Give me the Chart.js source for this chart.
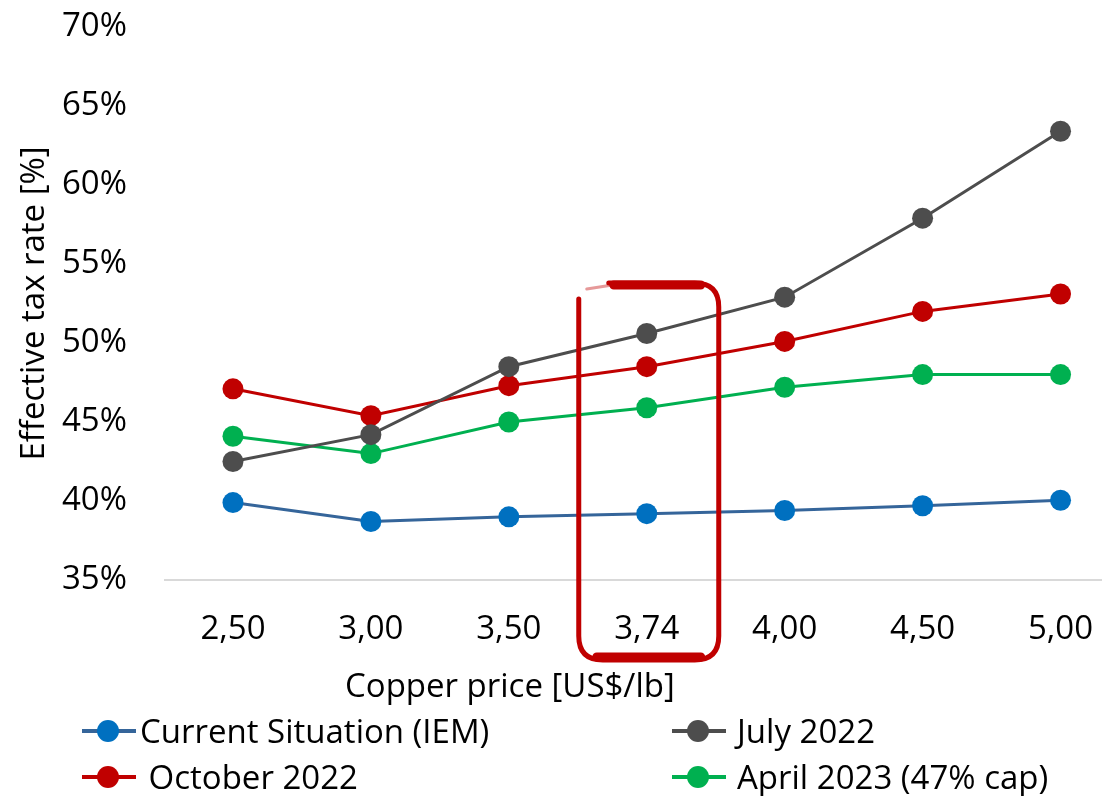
<!DOCTYPE html>
<html>
<head>
<meta charset="utf-8">
<script src="https://cdn.jsdelivr.net/npm/chart.js@4"></script>
<style>
  html, body { margin: 0; padding: 0; background: #fff; }
  body { width: 1102px; height: 796px; overflow: hidden; position: relative; font-family: "Open Sans", sans-serif; color: #000; }
  #wrap { position: absolute; left: 0; top: 0; width: 1140px; height: 796px; }
  #xTitle { position: absolute; top: 663px; left: 345px; font-size: 33px; line-height: 44px; white-space: nowrap; }
  .leg { position: absolute; font-size: 33px; line-height: 38px; white-space: nowrap; display: flex; align-items: center; }
  .sw { position: relative; width: 54px; height: 30px; margin-right: 4px; }
  .sw .ln { position: absolute; left: 0; right: 0; top: 13px; height: 4px; }
  .sw .dot { position: absolute; left: 15px; top: 4px; width: 22px; height: 22px; border-radius: 50%; }
</style>
</head>
<body>
<div id="wrap"><canvas id="chart" width="1140" height="796"></canvas></div>
<div id="xTitle">Copper price [US$/lb]</div>
<div id="legend"></div>
<script>
const prices = ["2,50", "3,00", "3,50", "3,74", "4,00", "4,50", "5,00"];
const currentIEM = [39.9, 38.7, 39.0, 39.2, 39.4, 39.7, 40.05];
const july2022 = [42.5, 44.2, 48.5, 50.6, 52.9, 57.9, 63.4];
const october2022 = [47.1, 45.4, 47.3, 48.5, 50.1, 52.0, 53.1];
const april2023 = [44.1, 43.0, 45.0, 45.9, 47.2, 48.0, 48.0];
const yTicks = [35, 40, 45, 50, 55, 60, 65, 70];
const highlightIndex = 3;

const series = [
  { label: "Current Situation (IEM)", data: currentIEM, line: "#35659a", dot: "#0070c0" },
  { label: "July 2022", data: july2022, line: "#4d4d4d", dot: "#4d4d4d" },
  { label: " October 2022", data: october2022, line: "#c00000", dot: "#c00000" },
  { label: "April 2023 (47% cap)", data: april2023, line: "#00b050", dot: "#00b050" }
];

// hand-drawn style red box around the highlighted price
const highlightBox = {
  id: "highlightBox",
  afterDatasetsDraw(chart) {
    const { ctx, scales: { x, y }, chartArea } = chart;
    const cx = x.getPixelForValue(highlightIndex);
    const left = cx - 68, right = cx + 72;
    const top = y.getPixelForValue(53.8), bottom = chartArea.bottom + 80;
    const r = 24;
    ctx.save();
    ctx.strokeStyle = "#c00000";
    ctx.lineCap = "round";
    ctx.lineWidth = 5;
    ctx.beginPath();
    ctx.moveTo(left, top + 16);
    ctx.lineTo(left, bottom - r);
    ctx.quadraticCurveTo(left, bottom, left + r, bottom);
    ctx.lineTo(right - r, bottom);
    ctx.quadraticCurveTo(right, bottom, right, bottom - r);
    ctx.lineTo(right, top + r);
    ctx.quadraticCurveTo(right, top, right - r, top);
    ctx.lineTo(left + 30, top);
    ctx.stroke();
    ctx.lineWidth = 9;
    ctx.beginPath();
    ctx.moveTo(left + 18, bottom - 3);
    ctx.lineTo(right - 18, bottom - 3);
    ctx.moveTo(left + 35, top + 2);
    ctx.lineTo(right - 18, top + 2);
    ctx.stroke();
    ctx.globalAlpha = 0.4;
    ctx.lineWidth = 3;
    ctx.beginPath();
    ctx.moveTo(left + 8, top + 6);
    ctx.lineTo(left + 40, top + 1);
    ctx.stroke();
    ctx.restore();
  }
};

new Chart(document.getElementById("chart"), {
  type: "line",
  data: {
    labels: prices,
    datasets: series.map(s => ({
      label: s.label,
      data: s.data,
      borderColor: s.line,
      backgroundColor: s.dot,
      pointBackgroundColor: s.dot,
      pointBorderColor: s.dot,
      borderWidth: 3,
      pointRadius: 10.5,
      pointBorderWidth: 0,
      tension: 0
    }))
  },
  options: {
    responsive: false,
    animation: false,
    maintainAspectRatio: false,
    layout: { padding: { left: 0, right: 10, top: 0, bottom: 96 } },
    plugins: { legend: { display: false }, tooltip: { enabled: false } },
    scales: {
      x: {
        offset: true,
        grid: { display: false, drawTicks: false },
        border: { display: false },
        ticks: { color: "#000", font: { family: "Open Sans", size: 33 }, padding: 30, maxRotation: 0 },
        afterFit: s => { s.height = 120; }
      },
      y: {
        min: 35,
        max: 70,
        afterBuildTicks: s => { s.ticks = yTicks.map(v => ({ value: v })); },
        grid: {
          drawTicks: false,
          lineWidth: 2,
          color: c => (c.tick && c.tick.value === 35 ? "#d9d9d9" : "rgba(0,0,0,0)")
        },
        border: { display: false },
        ticks: { color: "#000", font: { family: "Open Sans", size: 33 }, padding: 37, callback: v => v + "%" },
        title: { display: true, text: "Effective tax rate [%]", color: "#000", font: { family: "Open Sans", size: 33 }, padding: { top: 15, bottom: 0 } },
        afterFit: s => { s.width = 164; s.paddingTop = 27; s.paddingBottom = 20; }
      }
    }
  },
  plugins: [highlightBox]
});

// two-column legend below the chart
const legendPos = [[82, 712, 4], [672, 712, 11], [82, 758, 4], [672, 758, 11]];
const legend = document.getElementById("legend");
series.forEach((s, i) => {
  const el = document.createElement("div");
  el.className = "leg";
  el.style.left = legendPos[i][0] + "px";
  el.style.top = legendPos[i][1] + "px";
  el.innerHTML = `<span class="sw" style="margin-right:${legendPos[i][2]}px"><span class="ln" style="background:${s.line}"></span><span class="dot" style="background:${s.dot}"></span></span><span>${s.label.replace(/^ /, "&nbsp;")}</span>`;
  legend.appendChild(el);
});
</script>
</body>
</html>
